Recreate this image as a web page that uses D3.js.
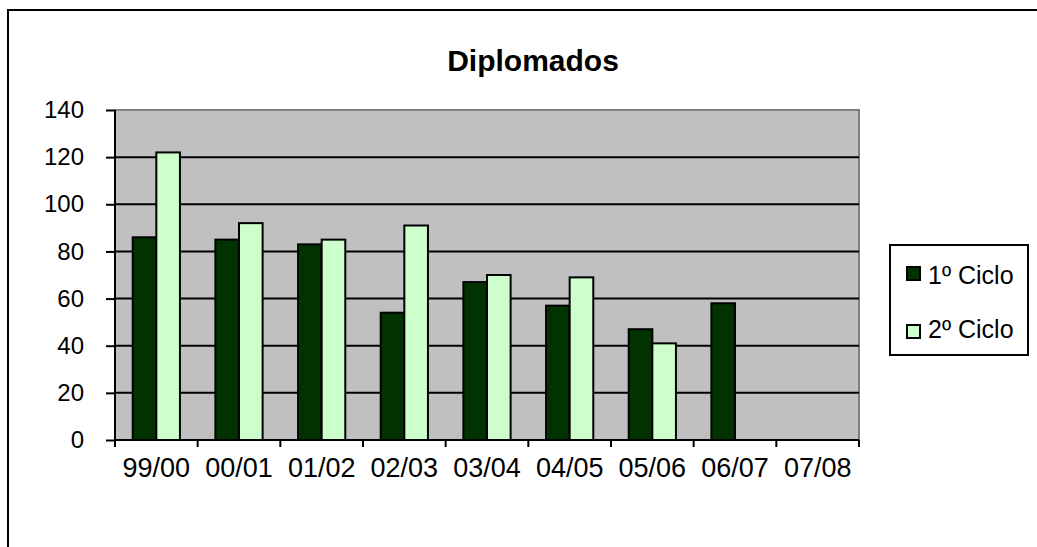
<!DOCTYPE html>
<html><head><meta charset="utf-8">
<script src="https://cdn.jsdelivr.net/npm/d3@7"></script>
<style>body{margin:0;background:#fff}svg{display:block}text{font-family:"Liberation Sans",Arial,sans-serif;fill:#000}</style>
</head><body>
<svg id="c" width="1037" height="547"></svg>
<script>
const categories = ["99/00","00/01","01/02","02/03","03/04","04/05","05/06","06/07","07/08"];
const ciclo1 = [86, 85, 83, 54, 67, 57, 47, 58, null];
const ciclo2 = [122, 92, 85, 91, 70, 69, 41, null, null];
const seriesNames = ["1º Ciclo", "2º Ciclo"];
const yTicks = [0, 20, 40, 60, 80, 100, 120, 140];
const colors = ["#003300", "#CCFFCC"];
const title = "Diplomados";

const svg = d3.select("#c");
svg.append("rect").attr("x", 8).attr("y", 10).attr("width", 1040).attr("height", 550)
  .attr("fill", "none").attr("stroke", "#000").attr("stroke-width", 2);

const L = 115, R = 859, T = 110, B = 440;
const x = d3.scaleBand().domain(categories).range([L, R]).paddingInner(0).paddingOuter(0);
const y = d3.scaleLinear().domain([0, 140]).range([B, T]);

svg.append("rect").attr("x", L).attr("y", T).attr("width", R - L).attr("height", B - T)
  .attr("fill", "#C0C0C0").attr("stroke", "#808080").attr("stroke-width", 2);

svg.append("g").selectAll("line").data(yTicks.filter(d => d > 0 && d < 140)).join("line")
  .attr("x1", L).attr("x2", R).attr("y1", d => y(d)).attr("y2", d => y(d))
  .attr("stroke", "#000").attr("stroke-width", 2);

const bw = x.bandwidth() / 3.5;
const series = [ciclo1, ciclo2];
series.forEach((vals, si) => {
  svg.append("g").selectAll("rect").data(categories.map((c, i) => ({c, v: vals[i]})).filter(d => d.v != null)).join("rect")
    .attr("x", d => x(d.c) + bw * 0.75 + si * bw)
    .attr("y", d => y(d.v))
    .attr("width", bw)
    .attr("height", d => y(0) - y(d.v))
    .attr("fill", colors[si]).attr("stroke", "#000").attr("stroke-width", 2);
});

// y axis
const ya = svg.append("g").attr("transform", `translate(${L},0)`)
  .call(d3.axisLeft(y).tickValues(yTicks).tickSize(9).tickPadding(22).tickFormat(d3.format("d")));
ya.select(".domain").attr("stroke", "#000").attr("stroke-width", 2).attr("d", `M0,${T}V${B}`);
ya.selectAll(".tick line").attr("stroke", "#000").attr("stroke-width", 2);
ya.selectAll(".tick text").attr("font-size", 24).attr("font-family", "Liberation Sans, Arial, sans-serif").attr("fill", "#000");

// x axis
const xa = svg.append("g").attr("transform", `translate(0,${B})`)
  .call(d3.axisBottom(x).tickSize(0).tickPadding(18));
xa.select(".domain").attr("stroke", "#000").attr("stroke-width", 2).attr("d", `M${L},0H${R}`);
xa.selectAll(".tick text").attr("font-size", 27).attr("font-family", "Liberation Sans, Arial, sans-serif").attr("fill", "#000");
const bounds = [L].concat(categories.map(c => x(c) + x.bandwidth()));
xa.append("g").selectAll("line").data(bounds).join("line")
  .attr("x1", d => d).attr("x2", d => d).attr("y1", 0).attr("y2", 7)
  .attr("stroke", "#000").attr("stroke-width", 2);

svg.append("text").attr("x", 533).attr("y", 71).attr("text-anchor", "middle")
  .attr("font-size", 30).attr("font-weight", "bold").text(title);

// legend
const lg = svg.append("g");
lg.append("rect").attr("x", 890).attr("y", 245).attr("width", 138).attr("height", 110)
  .attr("fill", "#fff").attr("stroke", "#000").attr("stroke-width", 2);
seriesNames.forEach((n, i) => {
  lg.append("rect").attr("x", 907).attr("y", 267 + i * 58).attr("width", 13).attr("height", 13)
    .attr("fill", colors[i]).attr("stroke", "#000").attr("stroke-width", 2);
  lg.append("text").attr("x", 928).attr("y", 284 + i * 54).attr("font-size", 25).text(n);
});
</script>
</body></html>
